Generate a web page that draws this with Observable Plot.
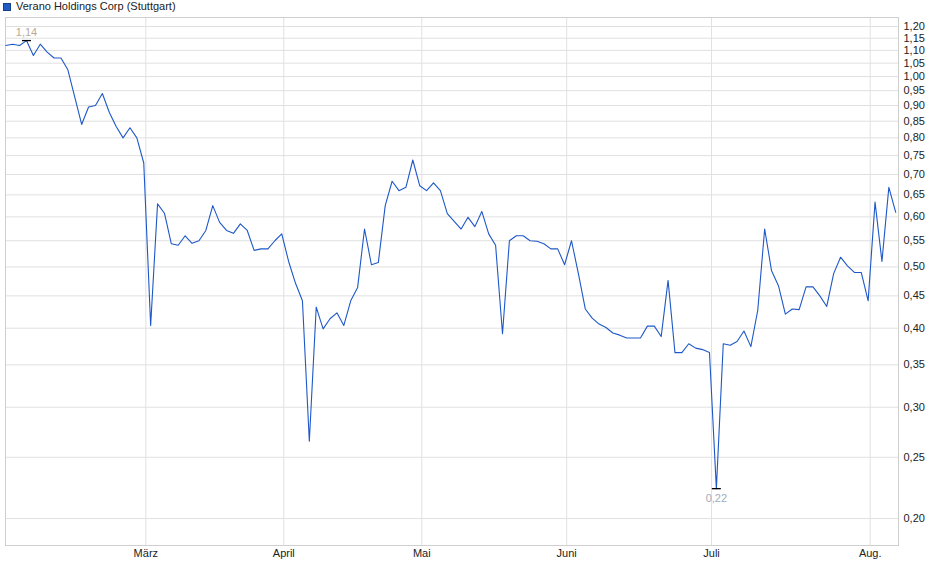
<!DOCTYPE html>
<html>
<head>
<meta charset="utf-8">
<script src="https://cdn.jsdelivr.net/npm/d3@7"></script>
<script src="https://cdn.jsdelivr.net/npm/@observablehq/plot@0.6"></script>
<style>
  body { margin: 0; background: #fff; }
  #wrap { position: relative; width: 940px; height: 579px; font-family: "Liberation Sans", Arial, sans-serif; }
  #legend { position: absolute; left: 3px; top: 0px; font-size: 11px; line-height: 13px; color: #222; display: flex; align-items: center; gap: 5px; }
  #legend .sw { width: 6px; height: 6px; background: #1f5bc6; border: 1px solid #173f86; }
</style>
</head>
<body>
<div id="wrap">
  <div id="legend"><span class="sw"></span><span>Verano Holdings Corp (Stuttgart)</span></div>
  <div id="chart"></div>
</div>
<script>
// Daily closing prices (EUR), one per trading day
const prices = [
  1.12, 1.125, 1.12, 1.14, 1.08, 1.125, 1.093, 1.07, 1.07, 1.025,
  0.928, 0.84, 0.895, 0.90, 0.94, 0.878, 0.834, 0.80, 0.83, 0.80,
  0.73, 0.404, 0.629, 0.608, 0.544, 0.541, 0.560, 0.545, 0.550, 0.571,
  0.625, 0.588, 0.571, 0.565, 0.585, 0.571, 0.531, 0.534, 0.534, 0.550,
  0.564, 0.51, 0.471, 0.442, 0.265, 0.432, 0.399, 0.414, 0.423, 0.404,
  0.442, 0.464, 0.574, 0.504, 0.508, 0.625, 0.683, 0.660, 0.668, 0.738,
  0.672, 0.660, 0.679, 0.660, 0.607, 0.59, 0.574, 0.599, 0.579, 0.612,
  0.564, 0.541, 0.392, 0.550, 0.560, 0.560, 0.550, 0.549, 0.544, 0.534,
  0.534, 0.504, 0.550, 0.488, 0.429, 0.415, 0.406, 0.401, 0.393, 0.390,
  0.386, 0.386, 0.386, 0.403, 0.403, 0.388, 0.476, 0.366, 0.366, 0.378,
  0.372, 0.370, 0.366, 0.223, 0.378, 0.376, 0.381, 0.396, 0.374, 0.427,
  0.574, 0.493, 0.467, 0.421, 0.429, 0.428, 0.465, 0.465, 0.450, 0.433,
  0.488, 0.518, 0.502, 0.490, 0.490, 0.442, 0.633, 0.510, 0.668, 0.610
];
// Month labels and the trading-day index of the first day of each month
const monthLabels = ["März", "April", "Mai", "Juni", "Juli", "Aug."];
const monthStartIndex = [20, 40, 60, 81, 102, 125];
// Price axis tick values
const yTicks = [0.20, 0.25, 0.30, 0.35, 0.40, 0.45, 0.50, 0.55, 0.60, 0.65, 0.70,
  0.75, 0.80, 0.85, 0.90, 0.95, 1.00, 1.05, 1.10, 1.15, 1.20];

const data = prices.map((v, i) => ({i, v}));
const tickShift = 0.3;
const tickPos = monthStartIndex.map(d => d + tickShift);
const labelByPos = new Map(tickPos.map((p, k) => [p, monthLabels[k]]));
const fmt = d => d3.format(".2f")(d).replace(".", ",");

const hi = data.reduce((a, b) => (b.v > a.v ? b : a));
const lo = data.reduce((a, b) => (b.v < a.v ? b : a));

const chart = Plot.plot({
  width: 940,
  height: 579,
  marginTop: 17,
  marginBottom: 34,
  marginLeft: 5,
  marginRight: 42,
  style: {fontFamily: "'Liberation Sans', Arial, sans-serif", fontSize: "11px", color: "#222", background: "transparent"},
  x: {type: "linear", domain: [-0.04, 129.4], axis: null},
  y: {type: "log", domain: [0.1813, 1.240], axis: null},
  marks: [
    Plot.gridY(yTicks, {stroke: "#e0e0e0", strokeOpacity: 1}),
    Plot.gridX(tickPos, {stroke: "#e0e0e0", strokeOpacity: 1}),
    Plot.frame({stroke: "#cfcfcf"}),
    Plot.axisY(yTicks, {anchor: "right", label: null, tickSize: 0, tickPadding: 5, tickFormat: fmt, fill: "#222"}),
    Plot.axisX(tickPos, {anchor: "bottom", label: null, tickSize: 0, tickPadding: 4, tickFormat: d => labelByPos.get(d), fill: "#222"}),
    Plot.line(data, {x: "i", y: "v", stroke: "#1e58c8", strokeWidth: 1.1}),
    Plot.link([hi, lo], {x1: d => d.i - 0.65, x2: d => d.i + 0.65, y1: "v", y2: "v", stroke: "#000", strokeWidth: 1.3}),
    Plot.text([hi], {x: "i", y: "v", text: d => fmt(d.v), dy: -8, fill: "#b8aa96", fontSize: 11}),
    Plot.text([lo], {x: "i", y: "v", text: d => fmt(d.v), dy: 10, fill: "#a2abbb", fontSize: 11})
  ]
});
document.getElementById("chart").appendChild(chart);
</script>
</body>
</html>
